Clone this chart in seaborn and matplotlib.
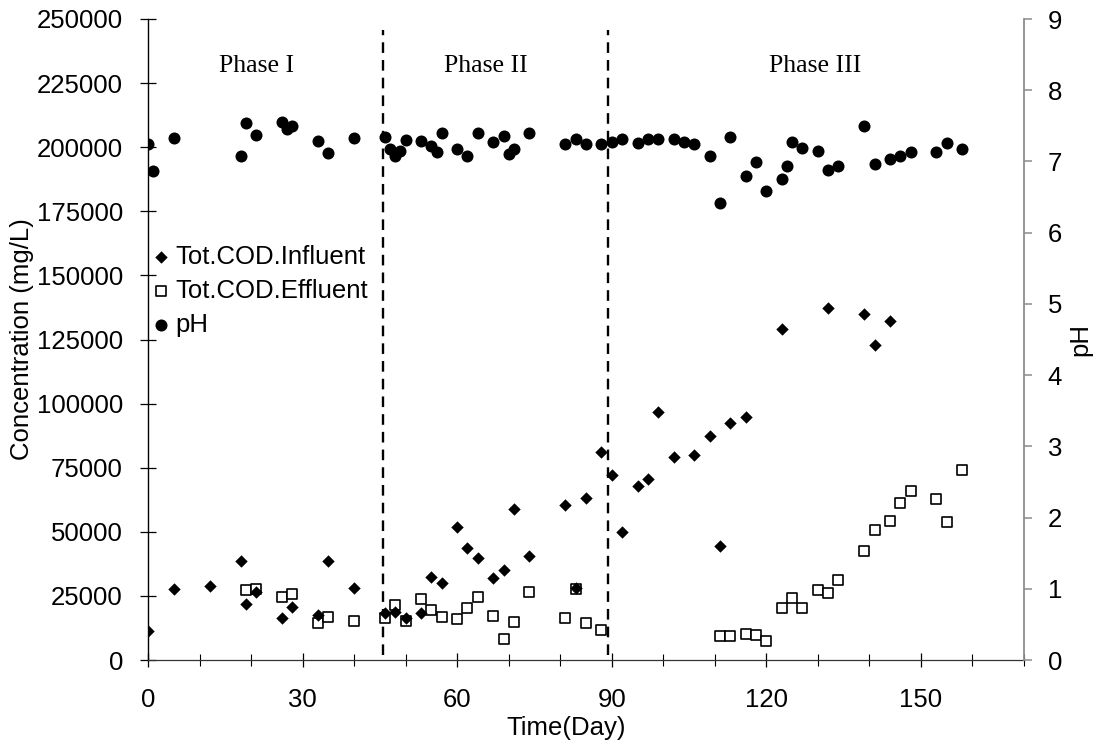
import numpy as np
import pandas as pd
import matplotlib
matplotlib.use("Agg")
import matplotlib.pyplot as plt
import seaborn as sns

# ---------------- data ----------------
inf_day = [0, 5, 12, 18, 19, 21, 26, 28, 33, 35, 40,
           46, 48, 50, 53, 55, 57, 60, 62, 64, 67, 69, 71, 74, 81, 83, 85, 88,
           90, 92, 95, 97, 99, 102, 106, 109, 111, 113, 116, 123, 132, 139, 141, 144]
inf_cod = [11440, 27560, 28990, 38610, 21840, 26390, 16250, 20540, 17420, 38740, 27950,
           18200, 18840, 16250, 18460, 32240, 30160, 52000, 43550, 39650, 32110, 35100, 58760, 40560, 60450, 28210, 63050, 81250,
           72200, 50000, 67860, 70670, 96720, 78980, 80070, 87320, 44340, 92430, 94850, 129090, 137120, 135130, 122890, 132170]

eff_day = [19, 21, 26, 28, 33, 35, 40,
           46, 48, 50, 53, 55, 57, 60, 62, 64, 67, 69, 71, 74, 81, 83, 85, 88,
           111, 113, 116, 118, 120, 123, 125, 127, 130, 132, 134, 139, 141, 144, 146, 148, 153, 155, 158]
eff_cod = [27300, 27690, 24700, 25740, 14300, 16900, 15340,
           16500, 21450, 15210, 23660, 19500, 16900, 15990, 20150, 24440, 17290, 8060, 14950, 26390, 16250, 27560, 14300, 11700,
           9170, 9170, 9950, 9560, 7540, 20160, 24330, 20160, 27300, 25940, 31320, 42320, 50510, 54130, 61270, 65830, 62870, 53860, 74020]

ph_day = [0, 1, 5, 18, 19, 21, 26, 27, 28, 33, 35, 40,
          46, 47, 48, 49, 50, 53, 55, 56, 57, 60, 62, 64, 67, 69, 70, 71, 74, 81, 83, 85, 88,
          90, 92, 95, 97, 99, 102, 104, 106, 109, 111, 113, 116, 118, 120, 123, 124, 125, 127,
          130, 132, 134, 139, 141, 144, 146, 148, 153, 155, 158]
ph_val = [7.25, 6.87, 7.33, 7.08, 7.54, 7.37, 7.55, 7.46, 7.50, 7.29, 7.12, 7.33,
          7.35, 7.18, 7.07, 7.14, 7.30, 7.29, 7.22, 7.13, 7.40, 7.17, 7.08, 7.40, 7.27, 7.36, 7.10, 7.17, 7.40, 7.25, 7.32, 7.25, 7.25,
          7.28, 7.31, 7.26, 7.32, 7.31, 7.31, 7.27, 7.24, 7.07, 6.42, 7.35, 6.79, 6.99, 6.58, 6.75, 6.94, 7.27, 7.19,
          7.15, 6.88, 6.93, 7.50, 6.96, 7.04, 7.08, 7.13, 7.13, 7.26, 7.17]

phase_bounds = [45.7, 89.3]
phase_names = ["Phase I", "Phase II", "Phase III"]
phase_name_day = [21.0, 65.6, 129.4]
phase_name_y = 231500
x_ticks = [0, 30, 60, 90, 120, 150]
conc_ticks = [0, 25000, 50000, 75000, 100000, 125000, 150000, 175000, 200000, 225000, 250000]
ph_ticks = [0, 1, 2, 3, 4, 5, 6, 7, 8, 9]

inf_df = pd.DataFrame({"day": inf_day, "cod": inf_cod})
eff_df = pd.DataFrame({"day": eff_day, "cod": eff_cod})
ph_df = pd.DataFrame({"day": ph_day, "ph": ph_val})

# ---------------- style ----------------
sns.set_theme(style="white")
plt.rcParams["font.family"] = ["Liberation Sans", "DejaVu Sans"]
plt.rcParams["text.color"] = "black"
plt.rcParams["axes.labelcolor"] = "black"
plt.rcParams["xtick.color"] = "black"
plt.rcParams["ytick.color"] = "black"
FS = 18.5

fig = plt.figure(figsize=(11, 7.47), dpi=100)
ax = fig.add_axes([148 / 1100, 1 - 660 / 747, (1024 - 148) / 1100, (660 - 19) / 747])
ax2 = ax.twinx()

sns.scatterplot(data=inf_df, x="day", y="cod", ax=ax, marker="D", s=40, color="black",
                linewidth=0, label="Tot.COD.Influent", legend=False, zorder=3)
sns.scatterplot(data=eff_df, x="day", y="cod", ax=ax, marker="s", s=50, facecolor="white",
                edgecolor="black", linewidth=1.2, label="Tot.COD.Effluent", legend=False, zorder=2)
sns.scatterplot(data=ph_df, x="day", y="ph", ax=ax2, marker="o", s=75, color="black",
                linewidth=0, label="pH", legend=False, zorder=3)

ax.vlines(phase_bounds, 1950, 245700, colors="black", linestyles=(0, (4.5, 3)), linewidth=1.7, zorder=1)

for name, d in zip(phase_names, phase_name_day):
    ax.text(d, phase_name_y, name, ha="center", va="center", fontsize=FS, color="black",
            family=["Liberation Serif", "DejaVu Serif"])

ax.set_xlim(0, 170)
ax.set_ylim(0, 250000)
ax2.set_ylim(0, 9)
ax.set_xticks(x_ticks)
ax.set_xticks(np.arange(0, 171, 10), minor=True)
ax.set_yticks(conc_ticks)
ax.set_yticklabels([str(v) for v in conc_ticks])
ax2.set_yticks(ph_ticks)

# spines
for s in ["top", "right"]:
    ax.spines[s].set_visible(False)
for s in ["top", "left", "bottom"]:
    ax2.spines[s].set_visible(False)
ax.spines["left"].set_color("black")
ax.spines["left"].set_linewidth(1.0)
ax.spines["bottom"].set_color("#333333")
ax.spines["bottom"].set_linewidth(0.9)
ax2.spines["right"].set_color("#8c8c8c")
ax2.spines["right"].set_linewidth(1.3)

ax.tick_params(axis="x", which="major", direction="inout", length=10.5, width=0.9,
               color="black", labelcolor="black", labelsize=FS, pad=15, bottom=True)
ax.tick_params(axis="x", which="minor", direction="inout", length=8.6, width=0.8,
               color="black", bottom=True)
ax.tick_params(axis="y", which="major", direction="inout", length=12, width=0.9,
               color="black", labelcolor="black", labelsize=FS, pad=12, left=True)
ax2.tick_params(axis="y", which="major", direction="out", length=6, width=1.1,
                color="#8c8c8c", labelcolor="black", labelsize=FS, pad=11, right=True)

ax.set_xlabel("Time(Day)", fontsize=FS, color="black")
ax.set_ylabel("Concentration (mg/L)", fontsize=FS, color="black")
ax2.set_ylabel("pH", fontsize=FS, color="black")
ax.xaxis.set_label_coords(0.477, -0.106)
ax.xaxis.label.set_va("center")
ax.yaxis.set_label_coords(-0.1438, 0.5)
ax.yaxis.label.set_va("center")
ax2.yaxis.set_label_coords(1.064, 0.5)
ax2.yaxis.label.set_va("center")
ax2.yaxis.label.set_rotation(90)
ax.grid(False)
ax2.grid(False)

h1, l1 = ax.get_legend_handles_labels()
h2, l2 = ax2.get_legend_handles_labels()
leg = ax2.legend(h1 + h2, l1 + l2, loc="upper left", bbox_to_anchor=(154.5 / 1100, 1 - 245 / 747),
                 bbox_transform=fig.transFigure, frameon=False, fontsize=FS, borderpad=0,
                 handlelength=0.5, handletextpad=0.3, labelspacing=0.38, borderaxespad=0)
for t in leg.get_texts():
    t.set_color("black")

fig.savefig("out.png", dpi=100, facecolor="white")
